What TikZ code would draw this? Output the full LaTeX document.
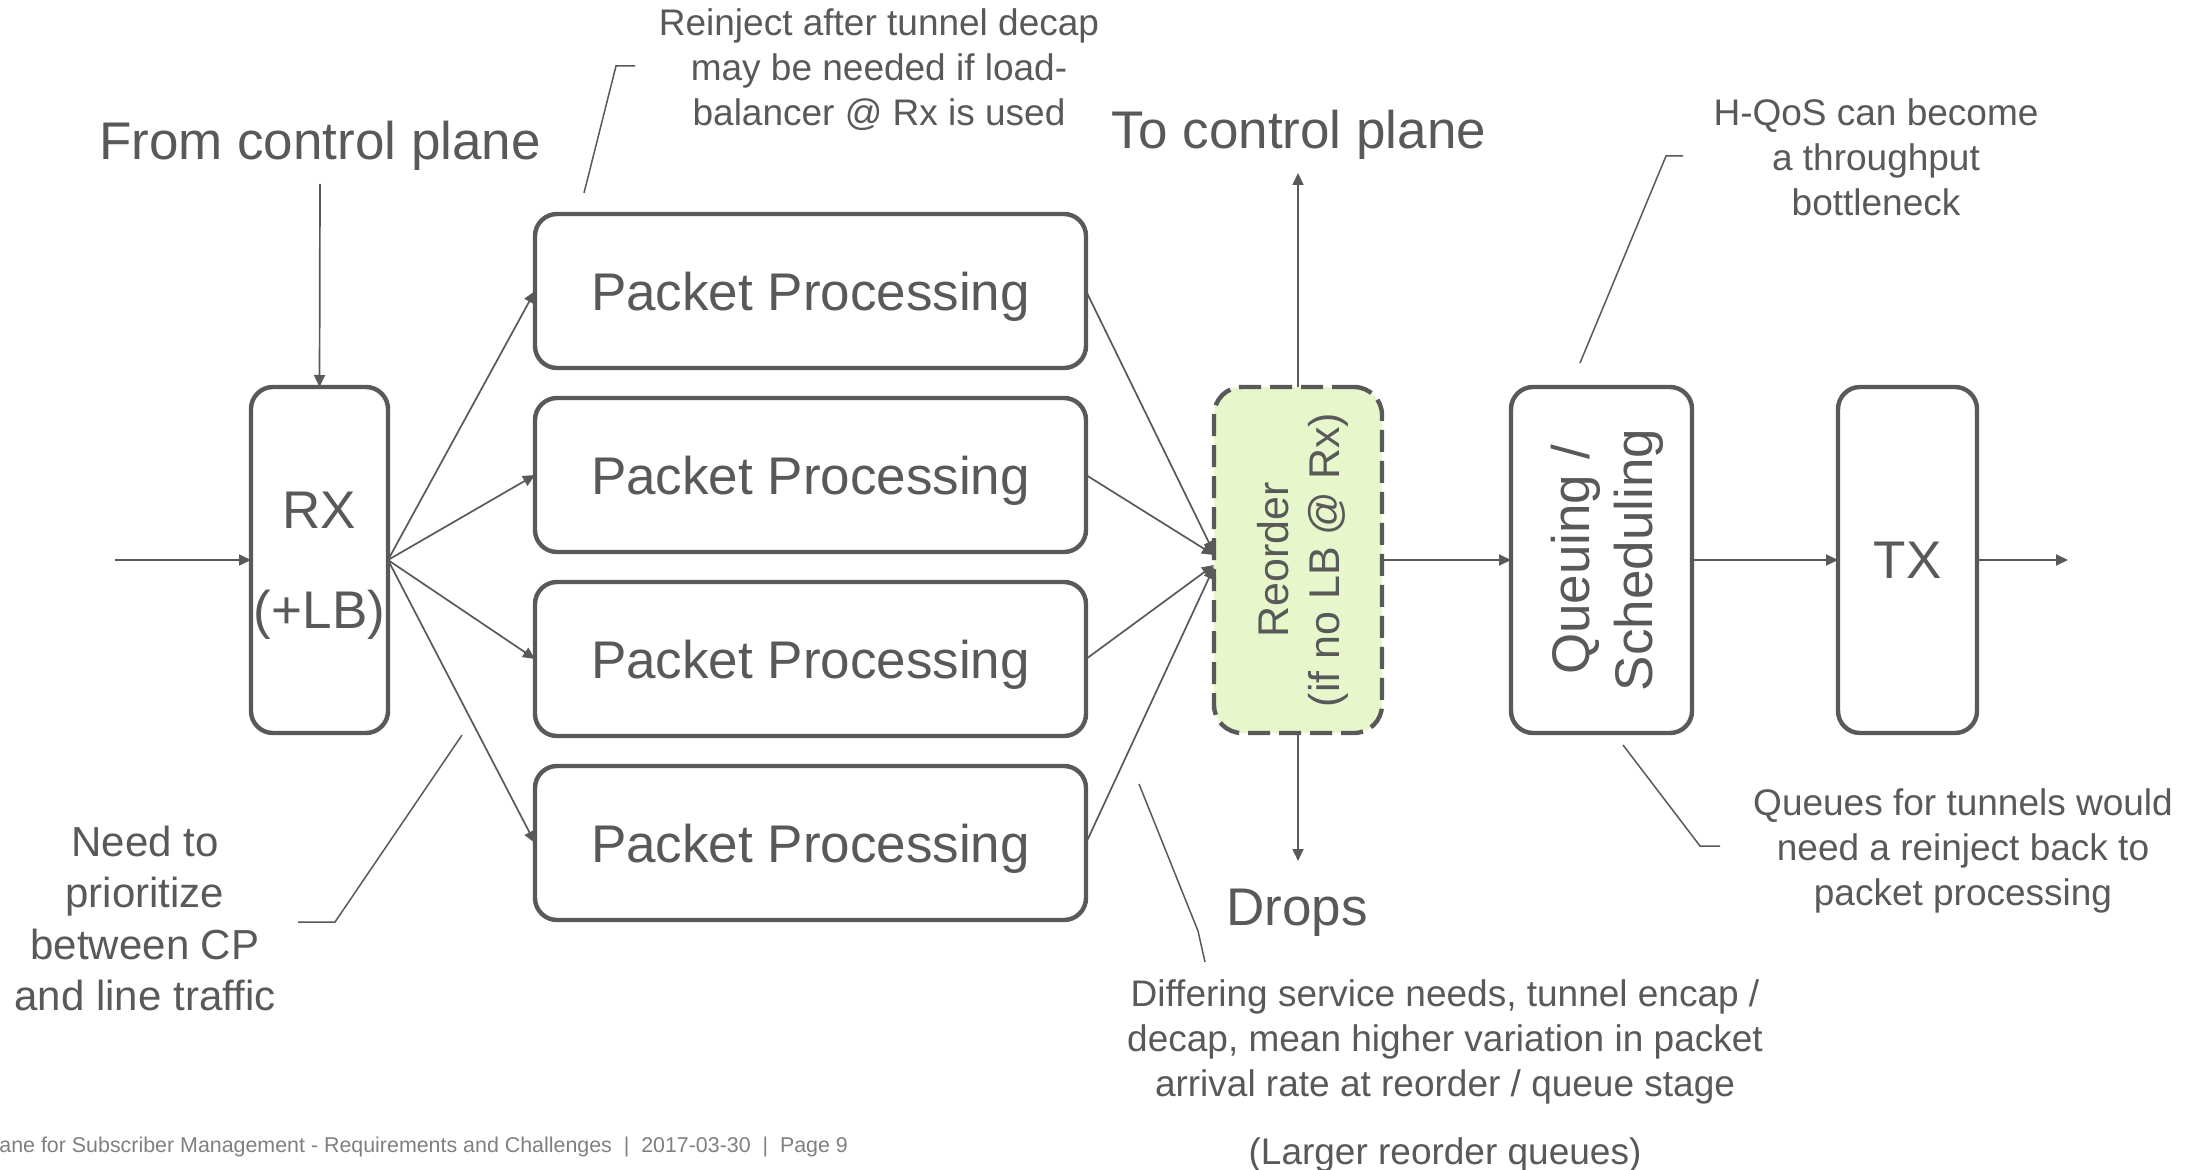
\documentclass[tikz,border=0pt]{standalone}
\usepackage{fontspec}
\setmainfont{Liberation Sans}
\usetikzlibrary{arrows.meta}
\definecolor{ink}{RGB}{89,89,89}
\definecolor{footgray}{RGB}{128,128,128}
\definecolor{reorderfill}{RGB}{232,246,204}

\begin{document}
\begin{tikzpicture}[x=0.5pt,y=-0.5pt,
  every node/.style={inner sep=0pt, outer sep=0pt, text=ink},
  tallbox/.style={draw=ink, line width=2.2pt, rounded corners=11pt, minimum height=173pt,
    font=\fontsize{26.5}{50}\selectfont, align=center, text depth=0pt},
  ppbox/.style={draw=ink, line width=2.2pt, rounded corners=11pt, minimum width=275.5pt,
    minimum height=77pt, font=\fontsize{26.5}{32}\selectfont, text depth=0pt},
  sidetext/.style={rotate=90, align=center, text depth=0pt},
  flow/.style={draw=ink, line width=0.85pt, -{Triangle[length=6pt,width=5.5pt]}},
  leader/.style={draw=ink, line width=0.75pt},
  biglabel/.style={anchor=base, font=\fontsize{26.5}{32}\selectfont},
  note/.style={anchor=north, align=center, font=\fontsize{18.5}{22.5}\selectfont},
]
\useasboundingbox[fill=white] (0,0) rectangle (2198,1170);

% pipeline stages
\node[tallbox, minimum width=68.5pt] (rx) at (319.5,560) {RX\\(+LB)};
\node[ppbox] (pp1) at (810.5,291) {Packet Processing};
\node[ppbox] (pp2) at (810.5,475) {Packet Processing};
\node[ppbox] (pp3) at (810.5,659) {Packet Processing};
\node[ppbox] (pp4) at (810.5,843) {Packet Processing};
\node[draw=ink, line width=2.2pt, dash pattern=on 11pt off 4.5pt, fill=reorderfill,
      rounded corners=14pt, minimum width=84pt, minimum height=173pt] (reorder) at (1298,560) {};
\node[sidetext, font=\fontsize{21.5}{25.5}\selectfont] (reorderlbl) at (reorder.center)
  {Reorder\\(if no LB @ Rx)};
\node[tallbox, minimum width=90.5pt] (queue) at (1601.5,560) {};
\node[sidetext, font=\fontsize{26.5}{31.5}\selectfont] (queuelbl) at (queue.center)
  {Queuing /\\Scheduling};
\node[tallbox, minimum width=69.5pt] (tx) at (1907.5,560) {TX};

% plane labels
\node[biglabel] (fromcp) at (320,160) {From control plane};
\node[biglabel] (tocp) at (1299,149) {To control plane};
\node[biglabel] (drops) at (1297,925) {Drops};

% free ends of the flow arrows
\coordinate (linein) at (115,560);
\coordinate (cpin) at (320,184);
\coordinate (cpout) at (1298,173);
\coordinate (dropout) at (1298,861);
\coordinate (lineout) at (2068,560);

% flow arrows
\draw[flow] (linein) -- (rx.west);
\draw[flow] (cpin) -- (rx.north);
\foreach \i in {1,2,3,4} \draw[flow] (rx.east) -- (pp\i.west);
\draw[flow] (pp1.east) -- ([yshift=3.5pt]reorder.west);
\draw[flow] (pp2.east) -- ([yshift=2.5pt]reorder.west);
\draw[flow] (pp3.east) -- ([yshift=-2.5pt]reorder.west);
\draw[flow] (pp4.east) -- ([yshift=-3.5pt]reorder.west);
\draw[flow] (reorder.north) -- (cpout);
\draw[flow] (reorder.south) -- (dropout);
\draw[flow] (reorder.east) -- (queue.west);
\draw[flow] (queue.east) -- (tx.west);
\draw[flow] (tx.east) -- (lineout);

% annotations
\node[note] (reinject) at (879,4) {\strut Reinject after tunnel decap\\may be needed if load-\\balancer @ Rx is used};
\node[note] (hqos) at (1876,94) {\strut H-QoS can become\\a throughput\\bottleneck};
\node[note] (tunnelq) at (1963,784) {\strut Queues for tunnels would\\need a reinject back to\\packet processing};
\node[note] (variation) at (1445,975) {\strut Differing service needs, tunnel encap /\\decap, mean higher variation in packet\\arrival rate at reorder / queue stage\\[11.5pt](Larger reorder queues)};
\node[note, font=\fontsize{21}{25.75}\selectfont] (prio) at (145,820) {\strut Need to\\prioritize\\between CP\\and line traffic};

% leader lines of the annotations
\coordinate (reinjectA) at (584,193);
\coordinate (reinjectB) at (616,66);
\coordinate (reinjectC) at (635,66);
\coordinate (hqosA) at (1580,363);
\coordinate (hqosB) at (1666,156);
\coordinate (hqosC) at (1683,156);
\coordinate (tunnelqA) at (1623,745);
\coordinate (tunnelqB) at (1700,846);
\coordinate (tunnelqC) at (1720,846);
\coordinate (variationA) at (1139,784);
\coordinate (variationB) at (1198,931);
\coordinate (variationC) at (1205,962);
\coordinate (prioA) at (462,735);
\coordinate (prioB) at (335,922);
\coordinate (prioC) at (298,922);
\draw[leader] (reinjectA) -- (reinjectB) -- (reinjectC);
\draw[leader] (hqosA) -- (hqosB) -- (hqosC);
\draw[leader] (tunnelqA) -- (tunnelqB) -- (tunnelqC);
\draw[leader] (variationA) -- (variationB) -- (variationC);
\draw[leader] (prioA) -- (prioB) -- (prioC);

% footer
\node[anchor=base east, text=footgray, font=\fontsize{10.7}{13}\selectfont] (footer) at (848,1152)
  {ane for Subscriber Management - Requirements and Challenges\ \ |\ \ 2017-03-30\ \ |\ \ Page 9};
\end{tikzpicture}
\end{document}
